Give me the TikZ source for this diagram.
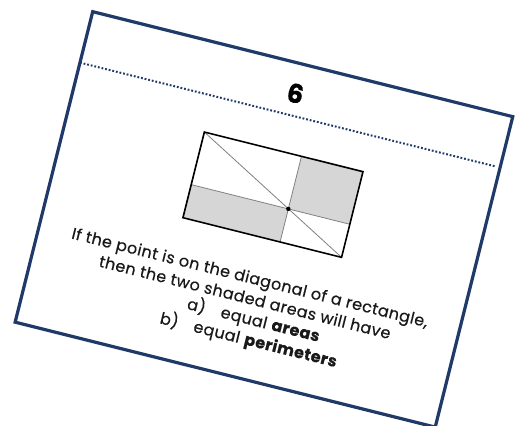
\documentclass[tikz,border=0pt]{standalone}
\usepackage{fontspec}
\setmainfont[LetterSpace=2.5,FakeBold=0.5]{Poppins}
\definecolor{cardblue}{HTML}{1F3A68}
\definecolor{shadegray}{HTML}{D6D6D6}
\tikzset{
  cardtext/.style={font=\fontsize{16}{20.5}\selectfont, text=black!90, align=center, inner sep=0pt},
  divline/.style={gray, line width=0.8pt},
}
\begin{document}
\begin{tikzpicture}[x=1pt,y=1pt]
\useasboundingbox (0,0) rectangle (526,-425);
\begin{scope}[shift={(92.7,-11.7)},rotate=-14.03,transform shape]
\fill[white] (0,0) rectangle (433,-320);
\fill[shadegray] (237.6,-89.7) rectangle (301,-143.9);
\fill[shadegray] (137.5,-143.9) rectangle (237.6,-178);
\draw[divline] (137.5,-89.7) -- (301,-178);
\draw[divline] (237.6,-89.7) -- (237.6,-178);
\draw[divline] (137.5,-143.9) -- (301,-143.9);
\draw[line width=1.6pt] (137.5,-89.7) rectangle (301,-178);
\fill (237.6,-143.9) circle (2.2pt);
\draw[cardblue, line width=2pt, dash pattern=on 1.8pt off 1.9pt] (0,-52.5) -- (428,-52.5);
\draw[cardblue, line width=3.2pt] (0,0) rectangle (433,-320);
\node[font=\bfseries\fontsize{26}{30}\selectfont] (num) at (216.5,-30) {6};
\node[cardtext] (question) at (217,-229.5) {If the point is on the diagonal of a rectangle,\\ then the two shaded areas will have};
\node[cardtext] (choices) at (231,-270.5) {a)\quad equal \textbf{areas}\\ b)\quad equal \textbf{perimeters}};
\end{scope}
\end{tikzpicture}
\end{document}
